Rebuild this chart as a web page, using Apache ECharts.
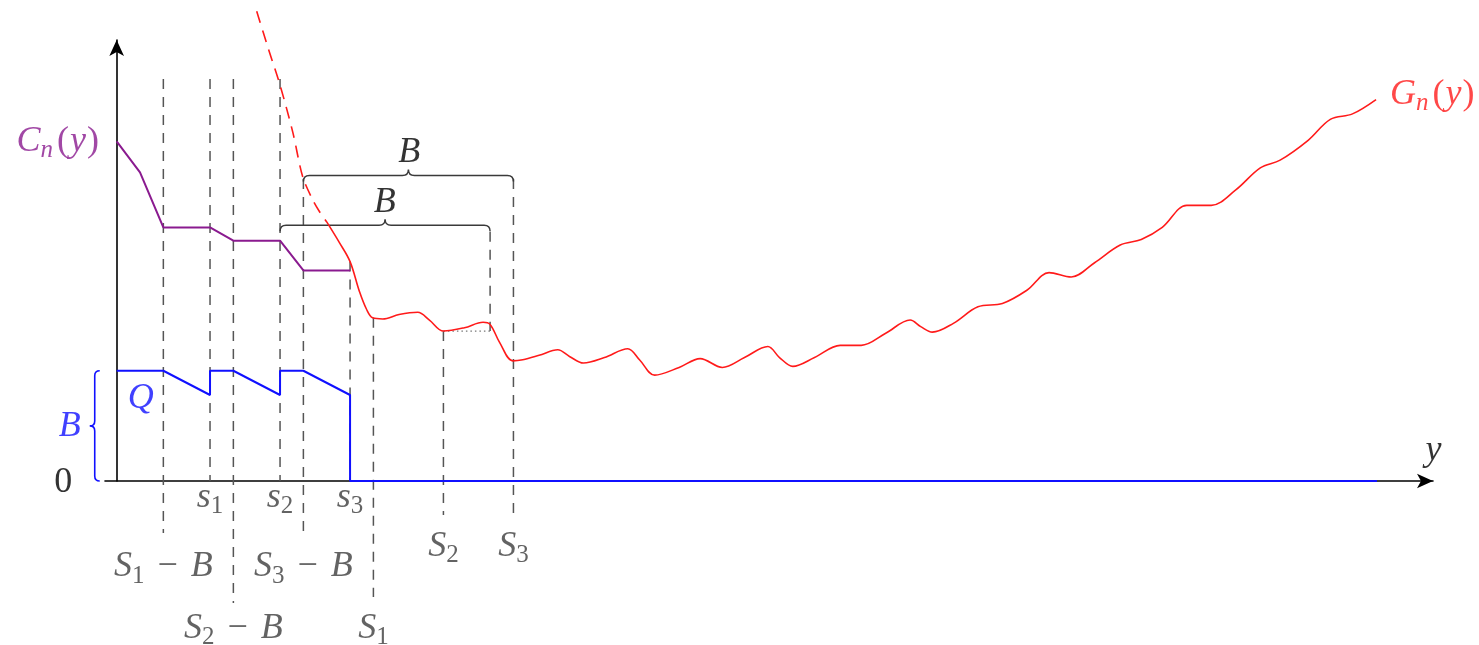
<!DOCTYPE html>
<html>
<head>
<meta charset="utf-8">
<script src="https://cdn.jsdelivr.net/npm/echarts@6/dist/echarts.min.js"></script>
<style>
  html, body { margin: 0; padding: 0; background: #fff; }
  #chart { width: 1479px; height: 645px; }
</style>
</head>
<body>
<div id="chart"></div>
<script>
// Positions along y (one unit = B / 9)
const S1mB = 2, s1 = 4, S2mB = 5, s2 = 7, S3mB = 8, s3 = 10, S1 = 11, S2 = 14, S3 = 17;
const yEnd = 54;

// Q: queue level (top = B)
const qX = [0, 2, 4, 4, 5, 7, 7, 8, 10, 10, 54];
const qY = [5, 5, 3.9, 5, 5, 3.9, 5, 5, 3.9, 0, 0];

// C_n(y)
const cX = [0, 1, 2, 4, 5, 7, 8, 10];
const cY = [15.4, 14.0, 11.5, 11.5, 10.9, 10.9, 9.55, 9.55];

// G_n(y), part left of S3 - B + 1 (dashed)
const gDashX = [6.0, 6.5, 7.0, 7.55, 7.97, 8.4, 8.7, 9.0];
const gDashY = [21.3, 19.6, 17.95, 15.8, 13.8, 12.75, 12.2, 11.75];

// G_n(y), solid part
const gX = [9.0, 9.55, 10.0, 10.4, 10.7, 10.97, 11.4, 12.1, 12.9, 13.4, 14.0, 14.9, 15.7, 16.0, 16.4, 16.97,
  17.4, 18.1, 18.9, 19.4, 20.0, 20.9, 21.9, 22.4, 23.05, 24.1, 25.0, 25.95, 26.9, 27.9, 28.4, 28.97,
  29.9, 31.0, 31.9, 32.95, 34.0, 34.45, 34.95, 35.85, 36.9, 37.95, 39.0, 39.95, 40.9, 41.9, 43.0,
  43.9, 44.8, 45.85, 46.9, 47.95, 49.0, 49.85, 51.05, 52.0, 52.95, 53.96];
const gY = [11.75, 10.8, 9.95, 8.6, 7.8, 7.4, 7.35, 7.55, 7.65, 7.3, 6.8, 6.95, 7.2, 7.1, 6.3, 5.45,
  5.5, 5.7, 5.95, 5.65, 5.35, 5.6, 6.0, 5.5, 4.8, 5.15, 5.55, 5.15, 5.6, 6.1, 5.6, 5.2,
  5.6, 6.15, 6.15, 6.7, 7.3, 7.0, 6.75, 7.15, 7.9, 8.05, 8.65, 9.45, 9.25, 9.9, 10.7,
  10.95, 11.5, 12.5, 12.5, 13.2, 14.2, 14.55, 15.45, 16.4, 16.65, 17.3];

// Dashed guide lines: [x, top, bottom]
const guideX      = [S1mB, s1, S2mB, s2, S3mB, s3, S1, S2, 16, S3];
const guideTop    = [18.23, 18.23, 18.23, 18.23, 13.7, 9.95, 7.4, 6.8, 11.3, 13.7];
const guideBottom = [-2.36, 0, -5.53, 0, -2.45, 0, -5.26, -1.54, 6.8, -1.77];

// Level marked by the dotted segment between S2 and the next peak
const dotLevel = 6.8;

// Braces of width B: [from, to, level]
const braceH = [[S3mB, S3, 13.85], [s2, 16, 11.6]];
// Brace for the height of Q: [x, from, to]
const braceV = [[-0.94, 0, 5]];

// Text labels
const tickNames = ['{i|s}{sb|1}', '{i|s}{sb|2}', '{i|s}{sb|3}',
  '{i|S}{sb|1}{op| − }{i|B}', '{i|S}{sb|3}{op| − }{i|B}', '{i|S}{sb|2}{op| − }{i|B}',
  '{i|S}{sb|1}', '{i|S}{sb|2}', '{i|S}{sb|3}'];
const tickAt = [[s1, -0.73], [s2, -0.73], [s3, -0.73],
  [S1mB, -3.9], [S3mB, -3.9], [S2mB, -6.7],
  [S1, -6.7], [S2, -2.97], [S3, -2.97]];

const FONT = 'Liberation Serif';

// Math-style rich text: italic letters, upright digits/operators, lowered subscripts
function makeRich(color) {
  const ink = { textShadowColor: color, textShadowBlur: 0, textShadowOffsetX: 0.6, textShadowOffsetY: 0 };
  return {
    i:  Object.assign({ fontFamily: FONT, fontStyle: 'italic', fontSize: 36 }, ink),
    r:  Object.assign({ fontFamily: FONT, fontStyle: 'normal', fontSize: 36 }, ink),
    p:  Object.assign({ fontFamily: FONT, fontStyle: 'normal', fontSize: 36, padding: [0, 1, 0, 1] }, ink),
    op: Object.assign({ fontFamily: FONT, fontStyle: 'normal', fontSize: 36, padding: [0, 4, 0, 4] }, ink),
    sb: Object.assign({ fontFamily: FONT, fontStyle: 'normal', fontSize: 25, padding: [18, 0, 0, 0] }, ink),
    si: Object.assign({ fontFamily: FONT, fontStyle: 'italic', fontSize: 25, padding: [18, 3, 0, 0] }, ink)
  };
}

const GREY = '#3c3c3c';
const RED = '#ff1a1a';
const BLUE = '#1010ff';
const PURPLE = '#8a1a8f';

function zip(a, b) { return a.map((v, i) => [v, b[i]]); }

function textItem(text, pos, color, position) {
  return {
    value: pos,
    label: {
      show: true, formatter: text, color: color, position: position || 'inside', distance: 0,
      rich: makeRich(color)
    }
  };
}

const labels = tickNames.map((t, i) => textItem(t, tickAt[i], GREY));
labels.push(textItem('{i|C}{si|n}{p|(}{i|y}{p|)}', [-0.72, 15.4], PURPLE, 'left'));
labels.push(textItem('{i|G}{si|n}{p|(}{i|y}{p|)}', [54.56, 17.54], RED, 'right'));
labels.push(textItem('{i|B}', [12.54, 14.88], '#000'));
labels.push(textItem('{i|B}', [11.49, 12.65], '#000'));
labels.push(textItem('{i|B}', [-2.01, 2.49], BLUE));
labels.push(textItem('{i|Q}', [1.03, 3.76], BLUE));
labels.push(textItem('{r|0}', [-2.29, -0.07], '#000'));
labels.push(textItem('{i|y}', [56.42, 1.36], '#000'));

function braceHPath(x0, x1, y, a) {
  const m = (x0 + x1) / 2;
  return `M${x0},${y + a} Q${x0},${y} ${x0 + a},${y} L${m - a},${y} Q${m},${y} ${m},${y - a} ` +
         `Q${m},${y} ${m + a},${y} L${x1 - a},${y} Q${x1},${y} ${x1},${y + a}`;
}
function braceVPath(x, yt, yb, a) {
  const m = (yt + yb) / 2;
  return `M${x + a},${yt} Q${x},${yt} ${x},${yt + a} L${x},${m - a} Q${x},${m} ${x - a},${m} ` +
         `Q${x},${m} ${x},${m + a} L${x},${yb - a} Q${x},${yb} ${x + a},${yb}`;
}

const axisCommon = {
  type: 'value',
  axisLine: {
    show: true, onZero: true,
    symbol: ['none', 'arrow'], symbolSize: [11, 16],
    lineStyle: { color: '#000', width: 1.6 }
  },
  axisTick: { show: false },
  axisLabel: { show: false },
  splitLine: { show: false }
};

const chart = echarts.init(document.getElementById('chart'), null, { renderer: 'canvas' });
chart.setOption({
  animation: false,
  backgroundColor: '#fff',
  grid: { left: 105, top: 40, width: 1328, height: 441, containLabel: false },
  xAxis: Object.assign({}, axisCommon, { min: -0.5, max: 56.4 }),
  yAxis: Object.assign({}, axisCommon, { min: 0, max: 20 }),
  series: [
    {
      type: 'custom', name: 'guides', clip: false, silent: true, z: 1,
      data: guideX.map((x, i) => [x, guideTop[i], guideBottom[i]]),
      renderItem: (params, api) => {
        const p0 = api.coord([api.value(0), api.value(1)]);
        const p1 = api.coord([api.value(0), api.value(2)]);
        return { type: 'line', shape: { x1: p0[0], y1: p0[1], x2: p1[0], y2: p1[1] },
          style: { stroke: '#555', lineWidth: 1.5, lineDash: [10, 8] } };
      }
    },
    {
      type: 'line', name: 'dotted', clip: false, silent: true, symbol: 'none', z: 1,
      data: [[S2, dotLevel], [16, dotLevel]],
      lineStyle: { color: '#777', width: 1.3, type: [1.5, 3] }
    },
    {
      type: 'custom', name: 'braceH', clip: false, silent: true, z: 3,
      data: braceH,
      renderItem: (params, api) => {
        const p0 = api.coord([api.value(0), api.value(2)]);
        const p1 = api.coord([api.value(1), api.value(2)]);
        return { type: 'path', shape: { pathData: braceHPath(p0[0], p1[0], p0[1], 6) },
          style: { stroke: '#3a3a3a', lineWidth: 1.5, fill: null } };
      }
    },
    {
      type: 'custom', name: 'braceV', clip: false, silent: true, z: 3,
      data: braceV,
      renderItem: (params, api) => {
        const p0 = api.coord([api.value(0), api.value(2)]);
        const p1 = api.coord([api.value(0), api.value(1)]);
        return { type: 'path', shape: { pathData: braceVPath(p0[0], p0[1], p1[1], 5) },
          style: { stroke: BLUE, lineWidth: 1.6, fill: null } };
      }
    },
    {
      type: 'line', name: 'C_n', clip: false, silent: true, symbol: 'none', z: 4,
      data: zip(cX, cY), lineStyle: { color: PURPLE, width: 2 }
    },
    {
      type: 'line', name: 'Q', clip: false, silent: true, symbol: 'none', z: 4,
      data: zip(qX, qY), lineStyle: { color: BLUE, width: 2 }
    },
    {
      type: 'line', name: 'G_n dashed', clip: false, silent: true, symbol: 'none', z: 4,
      smooth: 0.3, data: zip(gDashX, gDashY), lineStyle: { color: RED, width: 1.6, type: [12, 8] }
    },
    {
      type: 'line', name: 'G_n', clip: false, silent: true, symbol: 'none', z: 4,
      smooth: 0.35, data: zip(gX, gY), lineStyle: { color: RED, width: 1.6 }
    },
    {
      type: 'scatter', name: 'labels', clip: false, silent: true, symbolSize: 0, z: 5,
      data: labels
    }
  ]
});
</script>
</body>
</html>
